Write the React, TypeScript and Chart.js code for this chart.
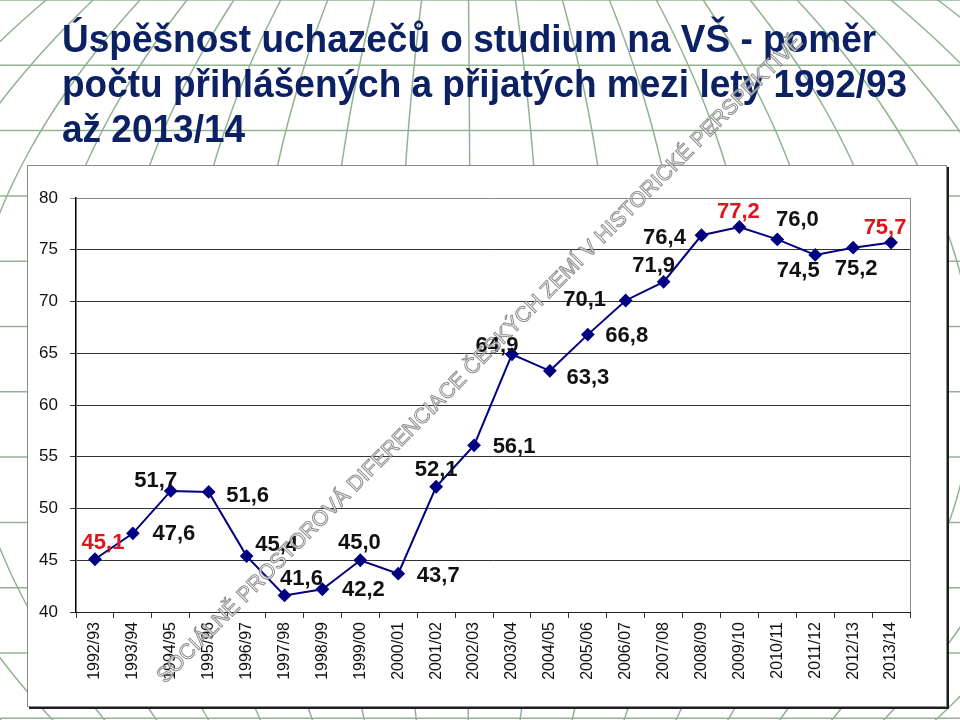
import React, { useEffect, useRef } from "react";
import { Chart, registerables } from "chart.js";

Chart.register(...registerables);

// ---------- data ----------
const categories = [
  "1992/93", "1993/94", "1994/95", "1995/96", "1996/97", "1997/98", "1998/99",
  "1999/00", "2000/01", "2001/02", "2002/03", "2003/04", "2004/05", "2005/06",
  "2006/07", "2007/08", "2008/09", "2009/10", "2010/11", "2011/12", "2012/13", "2013/14",
];
const values = [
  45.1, 47.6, 51.7, 51.6, 45.4, 41.6, 42.2, 45.0, 43.7, 52.1, 56.1,
  64.9, 63.3, 66.8, 70.1, 71.9, 76.4, 77.2, 76.0, 74.5, 75.2, 75.7,
];
const highlighted = [0, 17, 21]; // labels drawn in red
const yMin = 40;
const yMax = 80;
const yStep = 5;
const titleLines = [
  "Úspěšnost uchazečů o studium na VŠ - poměr",
  "počtu přihlášených a přijatých mezi lety 1992/93",
  "až 2013/14",
];
const watermarkText =
  "SOCIÁLNĚ PROSTOROVÁ DIFERENCIACE ČESKÝCH ZEMÍ V HISTORICKÉ PERSPEKTIVĚ";

// label placement relative to each point (px)
const labelOffsets: [number, number][] = [
  [8, -16], [41, 1], [-15, -10], [39, 4], [30, -11], [17, -17], [41, 1],
  [-1, -17], [40, 2], [0, -17], [40, 2], [-15, -8], [38, 7], [39, 1],
  [-41, -1], [-10, -16], [-37, 3], [-1, -15], [20, -19], [-17, 16], [3, 21], [-6, -15],
];

const FONT = '"Liberation Sans", Arial, Helvetica, sans-serif';

const fmt = (v: number) => v.toFixed(1).replace(".", ",");

// ---------- plugins ----------
const backgroundPlugin = {
  id: "slideBackground",
  beforeDraw(chart: any) {
    const ctx = chart.ctx as CanvasRenderingContext2D;
    const W = chart.width;
    const H = chart.height;
    ctx.save();
    ctx.fillStyle = "#ffffff";
    ctx.fillRect(0, 0, W, H);

    // globe-like grid
    ctx.strokeStyle = "#93b293";
    ctx.lineWidth = 1.5;
    for (let y = 0; y <= H + 2; y += 65.3) {
      ctx.beginPath();
      ctx.moveTo(0, y);
      ctx.lineTo(W, y);
      ctx.stroke();
    }
    const w = (y: number) => 72 - 1.736e-4 * (y - 380) * (y - 380);
    const c = (y: number) => 492 + 0.075 * y - 0.0001 * y * y;
    for (let k = -14; k <= 13; k++) {
      ctx.beginPath();
      for (let y = -10; y <= H + 10; y += 8) {
        const x = c(y) + (k + 0.5) * w(y);
        if (y === -10) ctx.moveTo(x, y);
        else ctx.lineTo(x, y);
      }
      ctx.stroke();
    }

    // title
    ctx.fillStyle = "#0c2164";
    ctx.font = `bold 37px ${FONT}`;
    ctx.textAlign = "left";
    ctx.textBaseline = "alphabetic";
    titleLines.forEach((line, i) => {
      ctx.save();
      ctx.translate(62, 52 + i * 45);
      ctx.scale(1, 1.05);
      ctx.fillText(line, 0, 0);
      ctx.restore();
    });

    // white chart panel with shadow
    const bx = 27, by = 165, bw = 920, bh = 542;
    ctx.fillStyle = "#1e1e1e";
    ctx.fillRect(bx + 2, by + 2, bw, bh);
    ctx.fillStyle = "#ffffff";
    ctx.fillRect(bx, by, bw, bh);
    ctx.strokeStyle = "#8a8a8a";
    ctx.lineWidth = 1;
    ctx.strokeRect(bx + 0.5, by + 0.5, bw - 1, bh - 1);
    ctx.restore();
  },
  beforeDatasetsDraw(chart: any) {
    const { ctx, chartArea } = chart;
    ctx.save();
    ctx.strokeStyle = "#8a8a8a";
    ctx.lineWidth = 1;
    ctx.beginPath();
    ctx.moveTo(Math.round(chartArea.right) + 0.5, chartArea.top);
    ctx.lineTo(Math.round(chartArea.right) + 0.5, chartArea.bottom);
    ctx.stroke();
    ctx.restore();
  },
};

const labelsPlugin = {
  id: "valueLabels",
  afterDatasetsDraw(chart: any) {
    const ctx = chart.ctx as CanvasRenderingContext2D;
    const meta = chart.getDatasetMeta(0);
    ctx.save();
    ctx.font = `bold 22px ${FONT}`;
    ctx.textAlign = "center";
    ctx.textBaseline = "middle";
    meta.data.forEach((pt: any, i: number) => {
      const [dx, dy] = labelOffsets[i];
      ctx.fillStyle = highlighted.includes(i) ? "#e3121b" : "#111111";
      ctx.fillText(fmt(values[i]), pt.x + dx, pt.y + dy);
    });
    ctx.restore();
  },
};

const watermarkPlugin = {
  id: "watermark",
  afterDraw(chart: any) {
    const ctx = chart.ctx as CanvasRenderingContext2D;
    ctx.save();
    ctx.font = `22px ${FONT}`;
    const w0 = ctx.measureText(watermarkText).width;
    const size = (22 * 905) / w0;
    ctx.font = `${size}px ${FONT}`;
    ctx.translate(165, 684);
    ctx.rotate((-45.1 * Math.PI) / 180);
    ctx.textAlign = "left";
    ctx.textBaseline = "alphabetic";
    ctx.fillStyle = "rgba(255,255,255,0.75)";
    ctx.fillText(watermarkText, 0, 0);
    ctx.strokeStyle = "rgba(120,120,120,0.85)";
    ctx.lineWidth = 1;
    ctx.strokeText(watermarkText, 0, 0);
    ctx.restore();
  },
};

export default function App() {
  const ref = useRef<HTMLCanvasElement | null>(null);

  useEffect(() => {
    if (!ref.current) return;
    const chart = new Chart(ref.current, {
      type: "line",
      data: {
        labels: categories,
        datasets: [
          {
            data: values,
            borderColor: "#000080",
            backgroundColor: "#000080",
            borderWidth: 2,
            pointStyle: "rectRot",
            pointRadius: 5.5,
            pointBackgroundColor: "#000080",
            pointBorderColor: "#000080",
            tension: 0,
          },
        ],
      },
      options: {
        animation: false,
        responsive: false,
        devicePixelRatio: 1,
        layout: { padding: { left: 26, right: 50, top: 198, bottom: 0 } },
        plugins: {
          legend: { display: false },
          tooltip: { enabled: false },
          title: { display: false },
        },
        scales: {
          x: {
            offset: true,
            grid: {
              display: true,
              offset: true,
              drawOnChartArea: false,
              drawTicks: true,
              tickLength: 6,
              color: "#333333",
            },
            border: { display: true, color: "#222222", width: 1 },
            ticks: {
              autoSkip: false,
              minRotation: 90,
              maxRotation: 90,
              padding: 4,
              color: "#111111",
              font: { family: FONT, size: 16 },
            },
            afterFit: (scale: any) => {
              scale.height = 108;
            },
          },
          y: {
            min: yMin,
            max: yMax,
            ticks: {
              stepSize: yStep,
              padding: 12,
              color: "#111111",
              font: { family: FONT, size: 17 },
            },
            grid: {
              color: (c: any) => (c.tick && c.tick.value === yMax ? "#8a8a8a" : "#333333"),
              lineWidth: 1,
              tickLength: 6,
            },
            border: { display: true, color: "#000000", width: 1.5 },
            afterFit: (scale: any) => {
              scale.width = 50;
            },
          },
        },
      },
      plugins: [backgroundPlugin, labelsPlugin, watermarkPlugin],
    });
    return () => chart.destroy();
  }, []);

  return (
    <div style={{ position: "absolute", left: 0, top: 0, width: 960, height: 720 }}>
      <canvas ref={ref} width={960} height={720} style={{ width: 960, height: 720, display: "block" }} />
    </div>
  );
}
